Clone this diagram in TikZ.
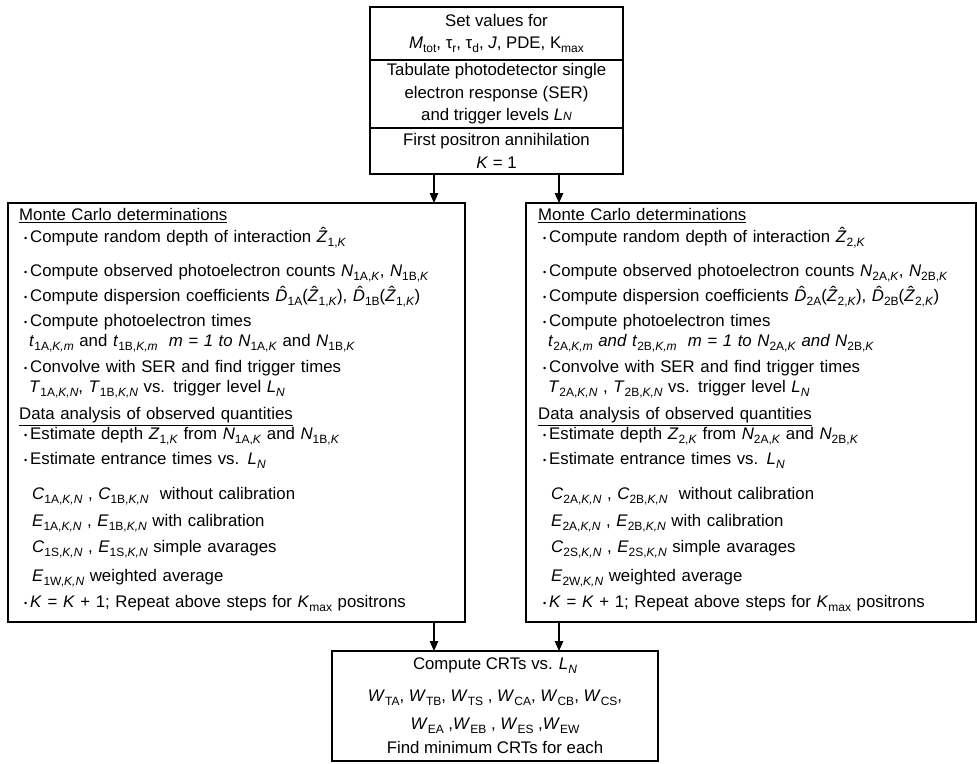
\documentclass[tikz,border=0pt]{standalone}
\usepackage{fontspec}
\setmainfont{Liberation Sans}
\usetikzlibrary{arrows.meta,positioning}
\newcommand{\sub}[1]{\raisebox{-4pt}{\fontsize{12}{12}\selectfont #1}}
\newcommand{\hatit}[1]{{\ooalign{\textit{#1}\cr\hidewidth\kern2.5pt\raisebox{3.6pt}{ˆ}\hidewidth\cr}}}
\newcommand{\itm}{\hspace*{5pt}\makebox[6pt][l]{\raisebox{1.5pt}{\fontsize{9}{9}\selectfont\textbullet}}}
\newcommand{\ind}[1]{\hspace*{#1pt}}

\begin{document}
\begin{tikzpicture}[x=1pt,y=-1pt,
		box/.style={draw,line width=1.3pt,outer sep=0pt,inner sep=0pt},
		topbox/.style={box,minimum width=253pt,align=center,font=\fontsize{16.8}{22.5}\selectfont},
		list/.style={align=left,inner sep=0pt,anchor=north west,text width=445pt,font=\fontsize{16.8}{20}\selectfont},
		arr/.style={-{Triangle[length=10pt,width=8.5pt]},line width=1.3pt}]
	\useasboundingbox (0,0) rectangle (977,763);
	\node[topbox,minimum height=53pt,anchor=north] (setv) at (496.5,7) {Set values for\\
		\textit{M}\sub{tot}, τ\sub{r}, τ\sub{d}, \textit{J}, PDE, K\sub{max}};
	\node[topbox,minimum height=68pt,below=0pt of setv] (tab) {Tabulate photodetector single\\
		electron response (SER)\\ and trigger levels \textit{L}{\fontsize{12}{12}\selectfont\textit{N}}};
	\node[topbox,minimum height=46pt,below=0pt of tab] (first) {First positron annihilation\\ \textit{K} = 1};
	\node[box,minimum width=457pt,minimum height=419pt,anchor=north west] (mcl) at (8,203) {};
	\node[box,minimum width=450pt,minimum height=419pt,anchor=north west] (mcr) at (526,203) {};
	\node[box,minimum width=326pt,minimum height=110pt,anchor=north west,align=center,
		font=\fontsize{16.8}{24}\selectfont] (crt) at (332,651) {Compute CRTs vs. \textit{L}\sub{\textit{N}}\\[8pt]
		\textit{W}\sub{TA}, \textit{W}\sub{TB}, \textit{W}\sub{TS} , \textit{W}\sub{CA}, \textit{W}\sub{CB}, \textit{W}\sub{CS},\\[4pt]
		\textit{W}\sub{EA} ,\textit{W}\sub{EB} , \textit{W}\sub{ES} ,\textit{W}\sub{EW}\\
		Find minimum CRTs for each};
	\node[list] (mcltxt) at ([xshift=11pt,yshift=-5.5pt]mcl.north west) {\underline{Monte Carlo determinations}\\[2pt]
		\itm Compute random depth of interaction \hatit{Z}\sub{1,\textit{K}}\\[14pt]
		\itm Compute observed photoelectron counts \textit{N}\sub{1A,\textit{K}}, \textit{N}\sub{1B,\textit{K}}\\[5pt]
		\itm Compute dispersion coefficients \hatit{D}\sub{1A}(\hatit{Z}\sub{1,\textit{K}}), \hatit{D}\sub{1B}(\hatit{Z}\sub{1,\textit{K}})\\[5pt]
		\itm Compute photoelectron times\\
		\ind{10}\textit{t}\sub{1A,\textit{K,m}} and \textit{t}\sub{1B,\textit{K,m}} \ \textit{m = 1 to N}\sub{1A,\textit{K}} and \textit{N}\sub{1B,\textit{K}}\\[6pt]
		\itm Convolve with SER and find trigger times\\
		\ind{10}\textit{T}\sub{1A,\textit{K,N}}, \textit{T}\sub{1B,\textit{K,N}} vs. trigger level \textit{L}\sub{\textit{N}}\\[7pt]
		\underline{Data analysis of observed quantities}\\
		\itm Estimate depth \textit{Z}\sub{1,\textit{K}} from \textit{N}\sub{1A,\textit{K}} and \textit{N}\sub{1B,\textit{K}}\\[5pt]
		\itm Estimate entrance times vs. \textit{L}\sub{\textit{N}}\\[15pt]
		\ind{13}\textit{C}\sub{1A,\textit{K,N}} , \textit{C}\sub{1B,\textit{K,N}} \ without calibration\\[7pt]
		\ind{13}\textit{E}\sub{1A,\textit{K,N}} , \textit{E}\sub{1B,\textit{K,N}} with calibration\\[6pt]
		\ind{13}\textit{C}\sub{1S,\textit{K,N}} , \textit{E}\sub{1S,\textit{K,N}} simple avarages\\[9pt]
		\ind{13}\textit{E}\sub{1W,\textit{K,N}} weighted average\\[6pt]
		\itm \textit{K} = \textit{K} + 1; Repeat above steps for \textit{K}\sub{max} positrons};
	\node[list] (mcrtxt) at ([xshift=12pt,yshift=-5.5pt]mcr.north west) {\underline{Monte Carlo determinations}\\[2pt]
		\itm Compute random depth of interaction \hatit{Z}\sub{2,\textit{K}}\\[14pt]
		\itm Compute observed photoelectron counts \textit{N}\sub{2A,\textit{K}}, \textit{N}\sub{2B,\textit{K}}\\[5pt]
		\itm Compute dispersion coefficients \hatit{D}\sub{2A}(\hatit{Z}\sub{2,\textit{K}}), \hatit{D}\sub{2B}(\hatit{Z}\sub{2,\textit{K}})\\[5pt]
		\itm Compute photoelectron times\\
		\ind{10}\textit{t}\sub{2A,\textit{K,m}} \textit{and t}\sub{2B,\textit{K,m}} \ \textit{m = 1 to N}\sub{2A,\textit{K}} \textit{and N}\sub{2B,\textit{K}}\\[6pt]
		\itm Convolve with SER and find trigger times\\
		\ind{10}\textit{T}\sub{2A,\textit{K,N}} , \textit{T}\sub{2B,\textit{K,N}} vs. trigger level \textit{L}\sub{\textit{N}}\\[7pt]
		\underline{Data analysis of observed quantities}\\
		\itm Estimate depth \textit{Z}\sub{2,\textit{K}} from \textit{N}\sub{2A,\textit{K}} and \textit{N}\sub{2B,\textit{K}}\\[5pt]
		\itm Estimate entrance times vs. \textit{L}\sub{\textit{N}}\\[15pt]
		\ind{13}\textit{C}\sub{2A,\textit{K,N}} , \textit{C}\sub{2B,\textit{K,N}} \ without calibration\\[7pt]
		\ind{13}\textit{E}\sub{2A,\textit{K,N}} , \textit{E}\sub{2B,\textit{K,N}} with calibration\\[6pt]
		\ind{13}\textit{C}\sub{2S,\textit{K,N}} , \textit{E}\sub{2S,\textit{K,N}} simple avarages\\[9pt]
		\ind{13}\textit{E}\sub{2W,\textit{K,N}} weighted average\\[6pt]
		\itm \textit{K} = \textit{K} + 1; Repeat above steps for \textit{K}\sub{max} positrons};
	\coordinate (xa) at (434,0);
	\coordinate (xb) at (559,0);
	\draw[arr] (first.south -| xa) -- (mcl.north -| xa);
	\draw[arr] (first.south -| xb) -- (mcr.north -| xb);
	\draw[arr] (mcl.south -| xa) -- (crt.north -| xa);
	\draw[arr] (mcr.south -| xb) -- (crt.north -| xb);
\end{tikzpicture}
\end{document}
